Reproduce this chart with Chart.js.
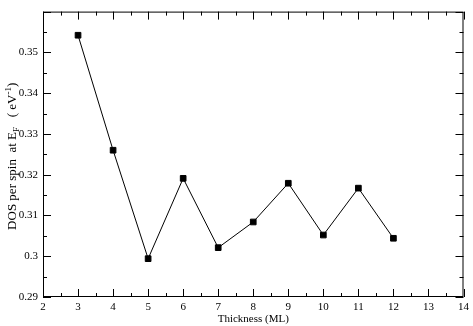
<!DOCTYPE html>
<html>
<head>
<meta charset="utf-8">
<script src="https://cdn.jsdelivr.net/npm/chart.js@4"></script>
<style>
html,body{margin:0;padding:0;background:#fff;}
#wrap{width:473px;height:326px;}
</style>
</head>
<body>
<div id="wrap"><canvas id="dosChart"></canvas></div>
<script>
const thickness = [3, 4, 5, 6, 7, 8, 9, 10, 11, 12];
const dosValues = [0.3542, 0.3260, 0.2994, 0.3191, 0.3021, 0.3084, 0.3179, 0.3052, 0.3167, 0.3044];
const xTickValues = [2, 3, 4, 5, 6, 7, 8, 9, 10, 11, 12, 13, 14];
const yTickValues = [0.29, 0.30, 0.31, 0.32, 0.33, 0.34, 0.35];

const serif = "'Liberation Serif', 'Times New Roman', serif";

// frame + inward ticks on all four sides
const frameTicks = {
    id: "frameTicks",
    afterDraw(c) {
        const ctx = c.ctx, a = c.chartArea;
        const xs = c.scales.x, ys = c.scales.y;
        ctx.save();
        ctx.strokeStyle = "#000";
        ctx.lineWidth = 1;
        ctx.strokeRect(a.left + 0.5, a.top + 0.5, a.right - a.left - 1, a.bottom - a.top - 1);
        ctx.beginPath();
        for (let i = 0; i < xTickValues.length; i++) {
            const v = xTickValues[i];
            const px = Math.round(xs.getPixelForValue(v)) + 0.5;
            ctx.moveTo(px, a.bottom); ctx.lineTo(px, a.bottom - 8);
            ctx.moveTo(px, a.top); ctx.lineTo(px, a.top + 8);
            if (i < xTickValues.length - 1) {
                const mx = Math.round(xs.getPixelForValue(v + 0.5)) + 0.5;
                ctx.moveTo(mx, a.bottom); ctx.lineTo(mx, a.bottom - 4);
                ctx.moveTo(mx, a.top); ctx.lineTo(mx, a.top + 4);
            }
        }
        const yAll = yTickValues.concat([0.36]);
        for (let i = 0; i < yAll.length; i++) {
            const v = yAll[i];
            const py = Math.round(ys.getPixelForValue(v)) + 0.5;
            ctx.moveTo(a.left, py); ctx.lineTo(a.left + 8, py);
            ctx.moveTo(a.right, py); ctx.lineTo(a.right - 8, py);
            if (i < yAll.length - 1) {
                const my = Math.round(ys.getPixelForValue(v + 0.005)) + 0.5;
                ctx.moveTo(a.left, my); ctx.lineTo(a.left + 4, my);
                ctx.moveTo(a.right, my); ctx.lineTo(a.right - 4, my);
            }
        }
        ctx.stroke();
        ctx.restore();
    }
};

// y title with subscript and superscript
const yTitle = {
    id: "yTitle",
    afterDraw(c) {
        const ctx = c.ctx, a = c.chartArea;
        const parts = [
            { t: "DOS per spin  at E", s: 13, dy: 0 },
            { t: "F", s: 9, dy: 3 },
            { t: "   ( eV", s: 13, dy: 0 },
            { t: "-1", s: 9, dy: -5 },
            { t: ")", s: 13, dy: 0 }
        ];
        ctx.save();
        let total = 0;
        parts.forEach(p => { ctx.font = p.s + "px " + serif; p.w = ctx.measureText(p.t).width; total += p.w; });
        ctx.translate(16, (a.top + a.bottom) / 2 + 2);
        ctx.rotate(-Math.PI / 2);
        ctx.fillStyle = "#000";
        ctx.textBaseline = "alphabetic";
        let x = -total / 2;
        parts.forEach(p => {
            ctx.font = p.s + "px " + serif;
            ctx.fillText(p.t, x, p.dy);
            x += p.w;
        });
        ctx.restore();
    }
};

new Chart(document.getElementById("dosChart"), {
    type: "line",
    data: {
        datasets: [{
            data: thickness.map((t, i) => ({ x: t, y: dosValues[i] })),
            borderColor: "#000",
            borderWidth: 1,
            backgroundColor: "#000",
            pointStyle: "rect",
            pointRadius: 4,
            pointBorderWidth: 1,
            pointBorderColor: "#000",
            pointBackgroundColor: "#000",
            tension: 0,
            fill: false
        }]
    },
    options: {
        responsive: true,
        maintainAspectRatio: false,
        animation: false,
        layout: { padding: { top: 1, right: 7, left: 0, bottom: 0 } },
        plugins: { legend: { display: false }, tooltip: { enabled: false } },
        scales: {
            x: {
                type: "linear",
                min: 2, max: 14,
                afterFit(s) { s.height = 29; },
                afterBuildTicks(s) { s.ticks = xTickValues.map(v => ({ value: v })); },
                grid: { display: false, drawTicks: false },
                border: { display: false },
                ticks: {
                    color: "#000",
                    padding: 4,
                    maxRotation: 0,
                    autoSkip: false,
                    font: { family: serif, size: 11 },
                    callback: v => String(v)
                },
                title: {
                    display: true,
                    text: "Thickness (ML)",
                    color: "#000",
                    padding: 0,
                    font: { family: serif, size: 11 }
                }
            },
            y: {
                type: "linear",
                min: 0.29, max: 0.36,
                afterFit(s) { s.width = 43; },
                afterBuildTicks(s) { s.ticks = yTickValues.map(v => ({ value: v })); },
                grid: { display: false, drawTicks: false },
                border: { display: false },
                ticks: {
                    color: "#000",
                    padding: 5,
                    autoSkip: false,
                    font: { family: serif, size: 11 },
                    callback: v => String(+v.toFixed(3))
                }
            }
        }
    },
    plugins: [frameTicks, yTitle]
});
</script>
</body>
</html>
